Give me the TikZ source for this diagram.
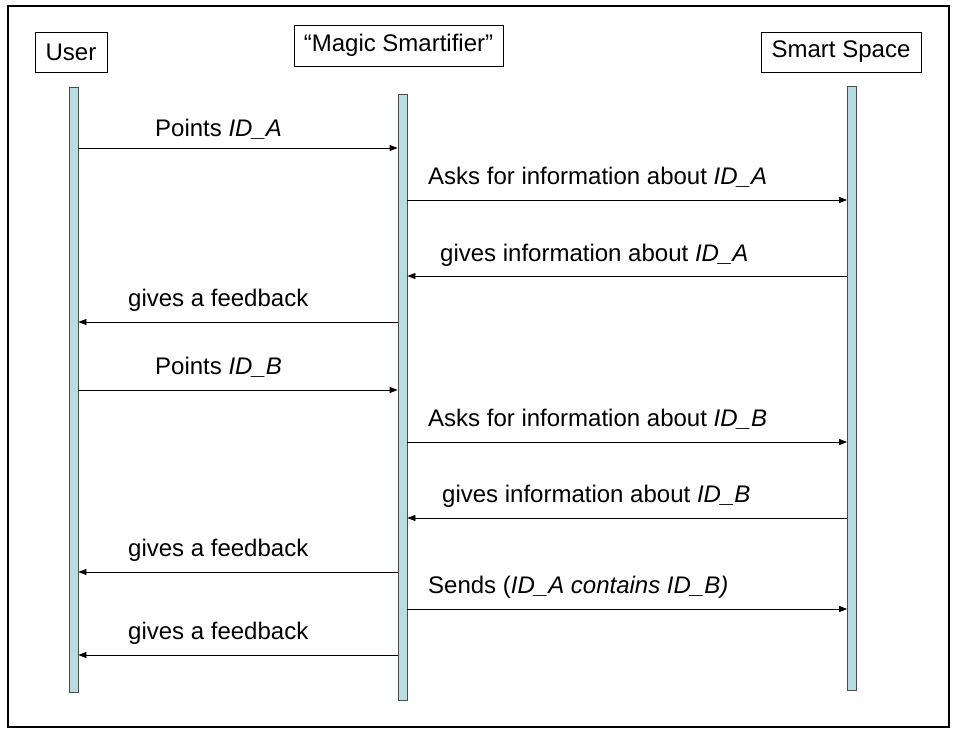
\documentclass[tikz,border=0pt]{standalone}
\usepackage{fontspec}
\setmainfont{Liberation Sans}
\usetikzlibrary{arrows.meta}
\definecolor{life}{HTML}{B7DDE0}
\begin{document}
\begin{tikzpicture}[x=1pt,y=-1pt,
 actor/.style={draw, line width=0.8pt, minimum height=40pt, inner sep=0pt, font=\fontsize{24}{28}\selectfont},
 lifeline/.style={draw=black!70, fill=life, line width=0.8pt, minimum width=9pt, inner sep=0pt},
 msg/.style={-{Triangle[length=8pt,width=6pt]}, line width=0.8pt},
 lbl/.style={anchor=base west, inner sep=0pt, font=\fontsize{24}{28}\selectfont}]
\useasboundingbox (0,0) rectangle (957,730);
\draw[line width=2pt] (8,6) rectangle (949,727);
% actors
\node[actor, minimum width=72pt] (user) at (71,52) {User};
\node[actor, minimum width=209pt, minimum height=41pt] (magic) at (398.5,45.5) {``Magic Smartifier''};
\node[actor, minimum width=160pt] (smart) at (841,52) {Smart Space};
% lifelines
\node[lifeline, minimum height=605pt] (ul) at (73.5,389.5) {};
\node[lifeline, minimum height=606pt] (ml) at (402.5,397) {};
\node[lifeline, minimum height=604pt] (sl) at (852,388) {};
% messages
\draw[msg] (ul.east |- 0,148) -- (ml.west |- 0,148);
\node[lbl] (t1) at (155,137) {Points \textit{ID\_A}};
\draw[msg] (ml.east |- 0,200) -- (sl.west |- 0,200);
\node[lbl] (t2) at (428,184) {Asks for information about \textit{ID\_A}};
\draw[msg] (sl.west |- 0,276) -- (ml.east |- 0,276);
\node[lbl] (t3) at (440,261) {gives information about \textit{ID\_A}};
\draw[msg] (ml.west |- 0,322) -- (ul.east |- 0,322);
\node[lbl] (t4) at (128,306) {gives a feedback};
\draw[msg] (ul.east |- 0,390) -- (ml.west |- 0,390);
\node[lbl] (t5) at (155,374) {Points \textit{ID\_B}};
\draw[msg] (ml.east |- 0,442) -- (sl.west |- 0,442);
\node[lbl] (t6) at (428,426) {Asks for information about \textit{ID\_B}};
\draw[msg] (sl.west |- 0,518) -- (ml.east |- 0,518);
\node[lbl] (t7) at (442,502) {gives information about \textit{ID\_B}};
\draw[msg] (ml.west |- 0,572) -- (ul.east |- 0,572);
\node[lbl] (t8) at (128,556) {gives a feedback};
\draw[msg] (ml.east |- 0,609) -- (sl.west |- 0,609);
\node[lbl] (t9) at (428,593) {Sends (\textit{ID\_A contains ID\_B)}};
\draw[msg] (ml.west |- 0,655) -- (ul.east |- 0,655);
\node[lbl] (t10) at (128,639) {gives a feedback};
\end{tikzpicture}
\end{document}
